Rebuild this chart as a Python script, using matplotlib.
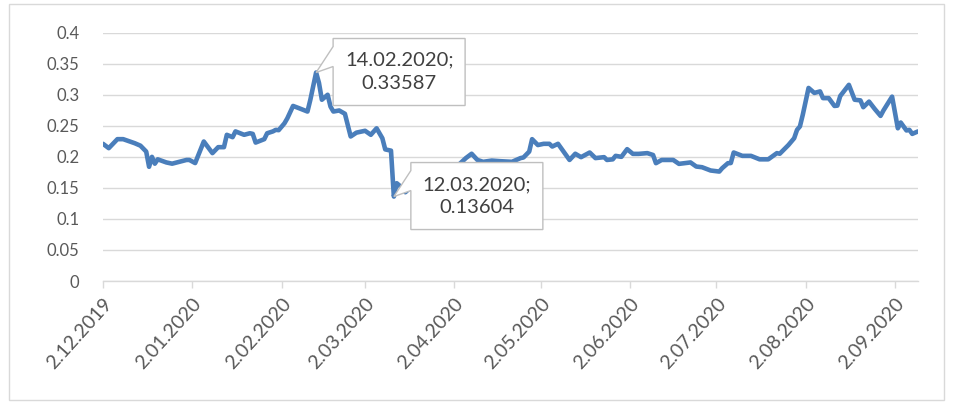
import datetime as dt
import matplotlib
matplotlib.use("Agg")
import matplotlib.pyplot as plt
import matplotlib.dates as mdates
import matplotlib.transforms as mtransforms
from matplotlib.patches import Polygon, Rectangle

plt.rcParams['font.family'] = ['Lato', 'DejaVu Sans']

# Daily series values
dates = [
    "2019-12-02", "2019-12-04", "2019-12-07", "2019-12-09", "2019-12-13", "2019-12-15",
    "2019-12-17", "2019-12-18", "2019-12-19", "2019-12-20", "2019-12-21", "2019-12-24",
    "2019-12-26", "2019-12-31", "2020-01-01", "2020-01-03", "2020-01-06", "2020-01-09",
    "2020-01-11", "2020-01-13", "2020-01-14", "2020-01-16", "2020-01-17", "2020-01-20",
    "2020-01-22", "2020-01-23", "2020-01-24", "2020-01-27", "2020-01-28", "2020-01-30",
    "2020-01-31", "2020-02-01", "2020-02-03", "2020-02-04", "2020-02-06", "2020-02-08",
    "2020-02-11", "2020-02-12", "2020-02-14", "2020-02-15", "2020-02-16", "2020-02-18",
    "2020-02-19", "2020-02-20", "2020-02-22", "2020-02-24", "2020-02-26", "2020-02-28",
    "2020-03-02", "2020-03-04", "2020-03-06", "2020-03-08", "2020-03-09", "2020-03-11",
    "2020-03-12", "2020-03-13", "2020-03-15", "2020-03-16", "2020-03-18", "2020-03-20",
    "2020-03-24", "2020-03-27", "2020-03-31", "2020-04-03", "2020-04-06", "2020-04-08",
    "2020-04-10", "2020-04-12", "2020-04-15", "2020-04-18", "2020-04-22", "2020-04-25",
    "2020-04-26", "2020-04-28", "2020-04-29", "2020-05-01", "2020-05-03", "2020-05-05",
    "2020-05-06", "2020-05-08", "2020-05-12", "2020-05-14", "2020-05-16", "2020-05-19",
    "2020-05-21", "2020-05-24", "2020-05-25", "2020-05-27", "2020-05-28", "2020-05-30",
    "2020-06-01", "2020-06-03", "2020-06-05", "2020-06-08", "2020-06-10", "2020-06-11",
    "2020-06-13", "2020-06-17", "2020-06-19", "2020-06-23", "2020-06-25", "2020-06-27",
    "2020-06-30", "2020-07-03", "2020-07-04", "2020-07-06", "2020-07-07", "2020-07-08",
    "2020-07-11", "2020-07-14", "2020-07-17", "2020-07-20", "2020-07-23", "2020-07-24",
    "2020-07-27", "2020-07-29", "2020-07-30", "2020-07-31", "2020-08-01", "2020-08-03",
    "2020-08-05", "2020-08-07", "2020-08-08", "2020-08-10", "2020-08-12", "2020-08-13",
    "2020-08-14", "2020-08-17", "2020-08-19", "2020-08-21", "2020-08-22", "2020-08-24",
    "2020-08-26", "2020-08-28", "2020-08-29", "2020-09-01", "2020-09-03", "2020-09-04",
    "2020-09-06", "2020-09-07", "2020-09-08", "2020-09-10",
]
values = [
    0.221, 0.214, 0.2285, 0.2285, 0.222, 0.218,
    0.2085, 0.184, 0.200, 0.189, 0.196, 0.191,
    0.189, 0.195, 0.195, 0.190, 0.2247, 0.206,
    0.2156, 0.2156, 0.2355, 0.2317, 0.241, 0.2355,
    0.238, 0.237, 0.223, 0.2285, 0.238, 0.241,
    0.2435, 0.243, 0.254, 0.262, 0.282, 0.2785,
    0.273, 0.292, 0.33587, 0.319, 0.292, 0.300,
    0.281, 0.273, 0.2747, 0.2694, 0.2328, 0.239,
    0.242, 0.2355, 0.246, 0.230, 0.212, 0.210,
    0.13604, 0.1575, 0.1495, 0.143, 0.152, 0.160,
    0.165, 0.172, 0.178, 0.185, 0.198, 0.205,
    0.195, 0.192, 0.194, 0.193, 0.192, 0.198,
    0.199, 0.2085, 0.2285, 0.219, 0.221, 0.221,
    0.2166, 0.221, 0.195, 0.205, 0.1995, 0.207,
    0.198, 0.1995, 0.195, 0.196, 0.2016, 0.200,
    0.2124, 0.2048, 0.2048, 0.206, 0.203, 0.1898,
    0.195, 0.195, 0.1887, 0.191, 0.1844, 0.1833,
    0.178, 0.1763, 0.1817, 0.1898, 0.190, 0.207,
    0.2016, 0.2016, 0.196, 0.196, 0.206, 0.205,
    0.219, 0.230, 0.2435, 0.249, 0.268, 0.311,
    0.303, 0.3054, 0.2946, 0.2946, 0.282, 0.2825,
    0.298, 0.316, 0.292, 0.291, 0.280, 0.289,
    0.277, 0.266, 0.2747, 0.297, 0.246, 0.2553,
    0.2425, 0.2435, 0.237, 0.241,
]

tick_dates = ["2019-12-02", "2020-01-02", "2020-02-02", "2020-03-02", "2020-04-02",
              "2020-05-02", "2020-06-02", "2020-07-02", "2020-08-02", "2020-09-02"]
y_ticks = [0, 0.05, 0.1, 0.15, 0.2, 0.25, 0.3, 0.35, 0.4]
y_tick_labels = ["0", "0.05", "0.1", "0.15", "0.2", "0.25", "0.3", "0.35", "0.4"]

# Labelled extremes
callout_dates = ["2020-02-14", "2020-03-12"]
callout_values = [0.33587, 0.13604]


def to_date(s):
    return dt.datetime.strptime(s, "%Y-%m-%d")


def dmy(d):
    return f"{d.day}.{d.month:02d}.{d.year}"


x = [to_date(s) for s in dates]
ticks = [to_date(s) for s in tick_dates]

W, H, DPI = 954, 403, 100
fig = plt.figure(figsize=(W / DPI, H / DPI), dpi=DPI)
fig.patch.set_facecolor("white")

# chart-area frame
fig.add_artist(Rectangle((9.5 / W, 3.5 / H), (944 - 9.5) / W, (399 - 3.5) / H,
                         transform=fig.transFigure, fill=False,
                         edgecolor="#d9d9d9", linewidth=1.0))

left, right, top, bottom = 103, 918, 32.7, 281
ax = fig.add_axes([left / W, (H - bottom) / H, (right - left) / W, (bottom - top) / H])

grid_c = "#d9d9d9"
text_c = "#595959"

ax.plot(x, values, color="#4a7ebb", linewidth=3.3, solid_joinstyle="round",
        solid_capstyle="round", zorder=3)

ax.set_xlim(to_date("2019-12-02"), to_date("2020-09-10"))
ax.set_ylim(0, 0.4)
ax.set_yticks(y_ticks)
ax.set_yticklabels(y_tick_labels)
ax.set_xticks(ticks)
ax.set_xticklabels([dmy(d) for d in ticks], rotation=48, ha="right", va="top",
                   rotation_mode="anchor")

for s in ["top", "right", "left"]:
    ax.spines[s].set_visible(False)
ax.spines["bottom"].set_color(grid_c)
ax.spines["bottom"].set_linewidth(1.0)
ax.grid(axis="y", color=grid_c, linewidth=1.0, zorder=0)
ax.set_axisbelow(True)
ax.tick_params(axis="y", length=0, pad=17, labelsize=12, labelcolor=text_c)
ax.tick_params(axis="x", length=5, width=1.0, color=grid_c, pad=5,
               labelsize=14, labelcolor=text_c)

fig.canvas.draw()

# callout boxes with a wedge pointing at the labelled point (pixel offsets)
box_x0, box_x1 = 17, 149
box_y0, box_y1 = -34, 33
wedge_a, wedge_b = -26, -6
for cd, cv in zip(callout_dates, callout_values):
    px, py = ax.transData.transform((mdates.date2num(to_date(cd)), cv))
    # offsets are image-style (down positive); flip for display
    pts = [
        (box_x0, box_y0), (box_x1, box_y0), (box_x1, box_y1), (box_x0, box_y1),
        (box_x0, wedge_b), (0, 0), (box_x0, wedge_a),
    ]
    verts = [(px + dx, py - dy) for dx, dy in pts]
    poly = Polygon(verts, closed=True, facecolor="white", edgecolor="#bfbfbf",
                   linewidth=1.0, transform=mtransforms.IdentityTransform(),
                   zorder=5, clip_on=False)
    fig.add_artist(poly)
    cx = px + (box_x0 + box_x1) / 2
    cy = py - (box_y0 + box_y1) / 2
    fig.text(cx / W, cy / H, f"{dmy(to_date(cd))};\n{cv:.5f}", ha="center",
             va="center", fontsize=14.5, color="#404040", linespacing=1.45,
             zorder=6)

fig.savefig("out.png", dpi=DPI)
